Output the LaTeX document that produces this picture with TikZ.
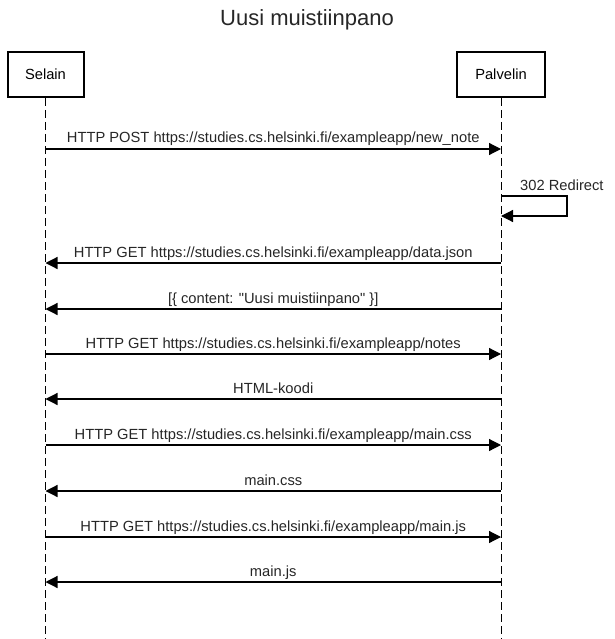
\documentclass[tikz,border=0pt]{standalone}
\usepackage{fontspec}
\setmainfont{Liberation Sans}[Ligatures=TeXOff]
\usetikzlibrary{arrows.meta}
\begin{document}
\begin{tikzpicture}[x=1pt,y=-1pt,
  actor/.style={draw,line width=2pt,minimum width=76pt,minimum height=45pt,inner sep=0pt,font=\fontsize{14.7}{17}\selectfont},
  lifeline/.style={line width=1pt,dash pattern=on 8pt off 4pt},
  msg/.style={line width=1.2pt,-{Triangle[length=12pt,width=12pt]}},
  lbl/.style={font=\fontsize{14.7}{17}\selectfont,inner sep=0pt,anchor=base,yshift=6pt,text=black!85},
  title/.style={font=\fontsize{22}{26}\selectfont,inner sep=0pt,anchor=base,text=black!85}]
\path[use as bounding box] (0,0) rectangle (614,639);
\node[title] (t) at (307,26) {Uusi muistiinpano};
\node[actor] (s) at (45.5,74.5) {Selain};
\node[actor,minimum width=88pt] (p) at (501,74.5) {Palvelin};
\coordinate (send) at (45.5,639);
\coordinate (pend) at (501,639);
\draw[lifeline] (s.south) -- (send);
\draw[lifeline] (p.south) -- (pend);
\foreach \n/\y in {1/149,3/263,4/309,5/354,6/399,7/445,8/491,9/537,10/582}{
  \coordinate (s\n) at (45.5,\y);
  \coordinate (p\n) at (501,\y);
}
\coordinate (r1) at (501,196);
\coordinate (r2) at (567,196);
\coordinate (r3) at (567,216);
\coordinate (r4) at (501,216);
\draw[msg] (s1) -- node[lbl] {HTTP POST https://studies.cs.helsinki.fi/exampleapp/new\_note} (p1);
\draw[msg] (r1) -- (r2) -- (r3) -- (r4);
\node[font=\fontsize{14.7}{17}\selectfont,inner sep=0pt,anchor=base west,text=black!85] (rl) at (520,190) {302 Redirect};
\draw[msg] (p3) -- node[lbl] {HTTP GET https://studies.cs.helsinki.fi/exampleapp/data.json} (s3);
\draw[msg] (p4) -- node[lbl] {[\{ content: "Uusi muistiinpano" \}]} (s4);
\draw[msg] (s5) -- node[lbl] {HTTP GET https://studies.cs.helsinki.fi/exampleapp/notes} (p5);
\draw[msg] (p6) -- node[lbl] {HTML-koodi} (s6);
\draw[msg] (s7) -- node[lbl] {HTTP GET https://studies.cs.helsinki.fi/exampleapp/main.css} (p7);
\draw[msg] (p8) -- node[lbl] {main.css} (s8);
\draw[msg] (s9) -- node[lbl] {HTTP GET https://studies.cs.helsinki.fi/exampleapp/main.js} (p9);
\draw[msg] (p10) -- node[lbl] {main.js} (s10);
\end{tikzpicture}
\end{document}
